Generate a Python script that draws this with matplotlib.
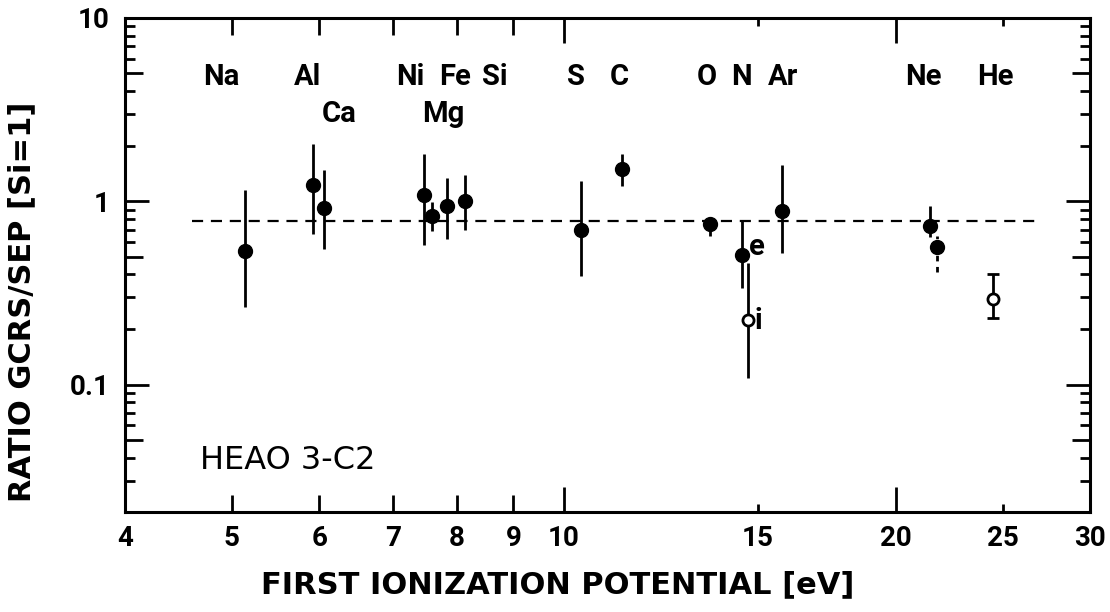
import matplotlib
matplotlib.use("Agg")
import matplotlib.pyplot as plt
from matplotlib.ticker import FixedLocator, FixedFormatter, NullFormatter

plt.rcParams['font.family'] = ['DejaVu Sans']

# ---- data ----
elements_filled = ["Na", "Al", "Ca", "Ni", "Mg", "Fe", "Si", "S", "C", "O", "N(e)", "Ar", "Ne", "Ne2"]
fip_filled = [5.14, 5.92, 6.06, 7.47, 7.60, 7.83, 8.13, 10.36, 11.29, 13.56, 14.52, 15.77, 21.47, 21.8]
ratio_filled = [0.533, 1.22, 0.92, 1.08, 0.83, 0.94, 1.0, 0.70, 1.51, 0.75, 0.51, 0.89, 0.73, 0.56]
err_hi_filled = [1.15, 2.05, 1.48, 1.81, 0.99, 1.34, 1.39, 1.29, 1.81, 0.80, 0.79, 1.57, 0.94, 0.65]
err_lo_filled = [0.264, 0.66, 0.55, 0.58, 0.69, 0.62, 0.70, 0.39, 1.21, 0.65, 0.335, 0.52, 0.64, 0.41]

elements_open = ["N(i)", "He"]
fip_open = [14.69, 24.5]
ratio_open = [0.224, 0.295]
err_hi_open = [0.46, 0.40]
err_lo_open = [0.109, 0.23]

ref_level = 0.778
ref_x = [4.6, 27.1]

label_names = ["Na", "Al", "Ca", "Ni", "Mg", "Fe", "Si", "S", "C", "O", "N", "Ar", "Ne", "He"]
label_x = [4.89, 5.86, 6.25, 7.25, 7.77, 7.97, 8.66, 10.26, 11.22, 13.48, 14.48, 15.8, 21.2, 24.6]
label_y = [4.76, 4.76, 2.99, 4.76, 2.99, 4.76, 4.76, 4.76, 4.76, 4.76, 4.76, 4.76, 4.76, 4.76]

xticks = [4, 5, 6, 7, 8, 9, 10, 15, 20, 25, 30]
xticklabels = ["4", "5", "6", "7", "8", "9", "10", "15", "20", "25", "30"]
yticks = [0.1, 1, 10]
yticklabels = ["0.1", "1", "10"]
yminor = [0.03, 0.04, 0.05, 0.06, 0.07, 0.08, 0.09,
          0.2, 0.3, 0.4, 0.5, 0.6, 0.7, 0.8, 0.9,
          2, 3, 4, 5, 6, 7, 8, 9]

LBL = dict(family=['Roboto', 'DejaVu Sans'], fontweight='bold')

# ---- figure ----
fig = plt.figure(figsize=(11.10, 6.12), dpi=100)
ax = fig.add_axes([125/1110, 1-512/612, 965/1110, 494/612])
ax.set_xscale('log')
ax.set_yscale('log')
ax.set_xlim(4, 30)
ax.set_ylim(0.0202, 10)

# reference dashed line
ax.plot(ref_x, [ref_level, ref_level], color='black', lw=1.6, dashes=(5, 3.5))

# filled points
for i in range(len(fip_filled)):
    lo = ratio_filled[i] - err_lo_filled[i]
    hi = err_hi_filled[i] - ratio_filled[i]
    eb = ax.errorbar([fip_filled[i]], [ratio_filled[i]], yerr=[[lo], [hi]],
                     fmt='o', color='black', ms=10, elinewidth=2.0, capsize=0)
    if elements_filled[i] == "Ne2":
        for c in eb[2]:
            c.set_linestyle((0, (2, 2)))

# open points
for i in range(len(fip_open)):
    lo = ratio_open[i] - err_lo_open[i]
    hi = err_hi_open[i] - ratio_open[i]
    cap = 4 if elements_open[i] == "He" else 0
    ax.errorbar([fip_open[i]], [ratio_open[i]], yerr=[[lo], [hi]],
                fmt='o', color='black', mfc='white', mec='black', mew=2,
                ms=8, elinewidth=2.0, capsize=cap, capthick=2.2, zorder=4)

# element labels
for name, x, y in zip(label_names, label_x, label_y):
    ax.text(x, y, name, ha='center', va='center', fontsize=21, **LBL)

ax.text(14.95, 0.56, "e", ha='center', va='center', fontsize=21, **LBL)
ax.text(15.0, 0.222, "i", ha='center', va='center', fontsize=21, **LBL)
ax.text(0.078, 0.105, "HEAO 3-C2", transform=ax.transAxes, ha='left', va='center', fontsize=23)

# ticks
ax.xaxis.set_major_locator(FixedLocator(xticks))
ax.xaxis.set_major_formatter(FixedFormatter(xticklabels))
ax.xaxis.set_minor_locator(FixedLocator([]))
ax.yaxis.set_major_locator(FixedLocator(yticks))
ax.yaxis.set_major_formatter(FixedFormatter(yticklabels))
ax.yaxis.set_minor_locator(FixedLocator(yminor))
ax.yaxis.set_minor_formatter(NullFormatter())

ax.tick_params(which='both', direction='in', top=True, right=True, width=2, labelsize=20)
ax.tick_params(axis='x', which='major', length=12, pad=9)
ax.tick_params(axis='y', which='major', length=17, pad=11)
ax.tick_params(axis='y', which='minor', length=7)
for lab in ax.get_xticklabels() + ax.get_yticklabels():
    lab.set_family(['Roboto', 'DejaVu Sans'])
    lab.set_fontweight('bold')

for t, v in zip(ax.xaxis.get_major_ticks(), xticks):
    if v in (15, 25):
        L = 6
    elif v in (10, 20):
        L = 18
    else:
        L = 12
    t.tick1line.set_markersize(L)
    t.tick2line.set_markersize(L)
for t, v in zip(ax.yaxis.get_minor_ticks(), yminor):
    if v in (0.05, 0.5, 5):
        t.tick1line.set_markersize(13)
        t.tick2line.set_markersize(13)

for s in ax.spines.values():
    s.set_linewidth(2.2)

fig.text(558/1110, 1-585/612, "FIRST IONIZATION POTENTIAL [eV]", ha='center', va='center',
         fontsize=22, fontweight='bold')
fig.text(22/1110, 1-302/612, "RATIO GCRS/SEP [Si=1]", ha='center', va='center', rotation=90,
         fontsize=22, fontweight='bold')

fig.savefig("out.png", dpi=100)
